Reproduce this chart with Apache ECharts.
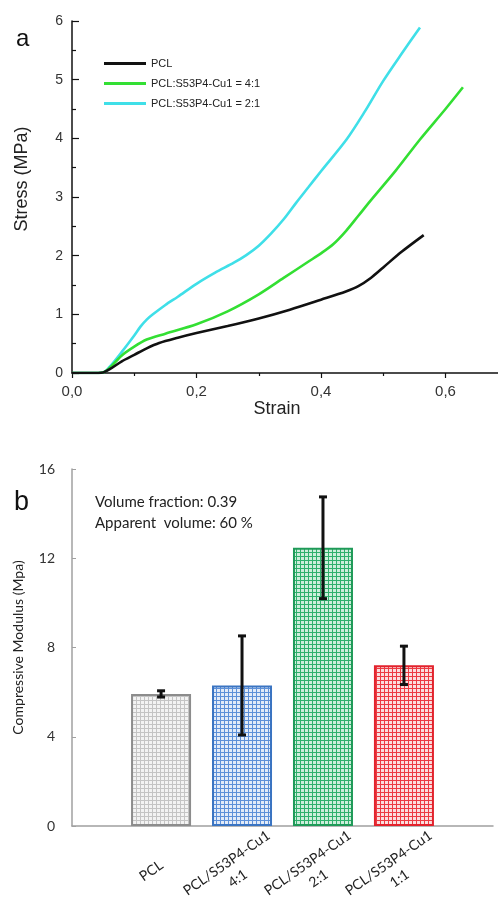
<!DOCTYPE html>
<html>
<head>
<meta charset="utf-8">
<script src="https://cdn.jsdelivr.net/npm/echarts@6/dist/echarts.min.js"></script>
<style>
html,body{margin:0;padding:0;background:#fff;}
#main{width:498px;height:903px;}
</style>
</head>
<body>
<div id="main"></div>
<script>
// ---------- Panel a: stress-strain ----------
const seriesNames = ['PCL', 'PCL:S53P4-Cu1 = 4:1', 'PCL:S53P4-Cu1 = 2:1'];
const pclStrain = [0, 0.03, 0.05, 0.06, 0.08, 0.1, 0.12, 0.14, 0.17, 0.2, 0.25, 0.3, 0.35, 0.4, 0.44, 0.46, 0.48, 0.5, 0.53, 0.565];
const pclStress = [0, 0, 0.01, 0.06, 0.2, 0.31, 0.42, 0.51, 0.6, 0.68, 0.8, 0.93, 1.08, 1.25, 1.39, 1.48, 1.62, 1.8, 2.07, 2.35];
const g41Strain = [0, 0.03, 0.05, 0.06, 0.08, 0.1, 0.12, 0.15, 0.2, 0.25, 0.3, 0.34, 0.38, 0.4, 0.42, 0.44, 0.46, 0.479, 0.52, 0.559, 0.6, 0.628];
const g41Stress = [0, 0, 0.01, 0.08, 0.3, 0.45, 0.57, 0.67, 0.83, 1.05, 1.34, 1.62, 1.9, 2.04, 2.2, 2.42, 2.68, 2.93, 3.45, 3.98, 4.5, 4.87];
const c21Strain = [0, 0.03, 0.05, 0.06, 0.08, 0.1, 0.11, 0.12, 0.13, 0.15, 0.17, 0.2, 0.23, 0.26, 0.28, 0.3, 0.32, 0.34, 0.36, 0.38, 0.4, 0.441, 0.47, 0.5, 0.53, 0.559];
const c21Stress = [0, 0, 0.01, 0.1, 0.36, 0.64, 0.79, 0.91, 1.0, 1.16, 1.3, 1.52, 1.71, 1.88, 2.01, 2.17, 2.38, 2.62, 2.9, 3.17, 3.44, 3.98, 4.45, 4.98, 5.45, 5.89];
const stressTicks = [0, 1, 2, 3, 4, 5, 6];
const strainTicks = [0, 0.2, 0.4, 0.6];

// ---------- Panel b: compressive modulus ----------
const categories = ['PCL', 'PCL/S53P4-Cu1\n4:1', 'PCL/S53P4-Cu1\n2:1', 'PCL/S53P4-Cu1\n1:1'];
const modulus = [5.92, 6.3, 12.47, 7.2];
const modulusErr = [0.14, 2.22, 2.28, 0.86];
const modulusTicks = [0, 4, 8, 12, 16];

const barStyles = [
  {line: '#c4c4c4', bg: '#f3f3f3', border: '#8c8c8c'},
  {line: '#5d90d8', bg: '#e2ebf8', border: '#3a74c2'},
  {line: '#2fb06c', bg: '#cdeedb', border: '#1f9a58'},
  {line: '#ec3a42', bg: '#fbdede', border: '#e2222c'}
];
function makePattern(line, bg) {
  const c = document.createElement('canvas');
  c.width = 4; c.height = 4;
  const ctx = c.getContext('2d');
  ctx.fillStyle = bg; ctx.fillRect(0, 0, 4, 4);
  ctx.fillStyle = line; ctx.fillRect(0, 0, 4, 1); ctx.fillRect(0, 0, 1, 4);
  return c;
}

const zip = (xs, ys) => xs.map((x, i) => [x, ys[i]]);
const lineColors = ['#111111', '#33df33', '#3fdfe8'];
const lineData = [zip(pclStrain, pclStress), zip(g41Strain, g41Stress), zip(c21Strain, c21Stress)];

const chart = echarts.init(document.getElementById('main'), null, {renderer: 'canvas'});

const option = {
  backgroundColor: '#ffffff',
  animation: false,
  title: [
    {text: 'a', left: 11, top: 22, textStyle: {fontFamily: 'Liberation Sans', fontSize: 24, fontWeight: 'normal', color: '#111'}},
    {text: 'b', left: 9, top: 484, textStyle: {fontFamily: 'Liberation Sans', fontSize: 27, fontWeight: 'normal', color: '#111'}},
    {text: 'Volume fraction: 0.39\nApparent  volume: 60 %', left: 90, top: 487,
     textStyle: {fontFamily: 'Lato', fontSize: 15, fontWeight: 'normal', color: '#222', lineHeight: 21}}
  ],
  legend: {
    data: seriesNames,
    orient: 'vertical',
    left: 99, top: 53,
    itemGap: 9,
    icon: 'rect',
    itemWidth: 42, itemHeight: 3,
    textStyle: {fontFamily: 'Liberation Sans', fontSize: 11, color: '#222'}
  },
  grid: [
    {left: 72, right: -72, top: 21, bottom: 530, outerBoundsMode: 'none', containLabel: false},
    {left: 72, right: 5, top: 469, bottom: 77, outerBoundsMode: 'none', containLabel: false}
  ],
  xAxis: [
    {
      gridIndex: 0, type: 'value', min: 0, max: 0.8, interval: 0.2,
      name: 'Strain', nameLocation: 'middle', nameGap: 25,
      nameTextStyle: {fontFamily: 'Liberation Sans', fontSize: 18, color: '#222', padding: [0, 88, 0, 0]},
      axisLine: {lineStyle: {color: '#111', width: 1.5}},
      axisTick: {show: true, length: 5, lineStyle: {color: '#111', width: 1.2}},
      minorTick: {show: true, splitNumber: 2, length: 3, lineStyle: {color: '#111', width: 1.2}},
      splitLine: {show: false},
      axisLabel: {fontFamily: 'Liberation Sans', fontSize: 15, color: '#333', margin: 11,
        formatter: v => v.toFixed(1).replace('.', ',')}
    },
    {
      gridIndex: 1, type: 'value', min: -1.1, max: 4.1,
      axisLine: {onZero: false, lineStyle: {color: '#a0a0a0', width: 1.5}},
      axisTick: {show: false},
      splitLine: {show: false},
      axisLabel: {
        customValues: [0, 1, 2, 3],
        formatter: v => categories[Math.round(v)],
        showMinLabel: true, showMaxLabel: true,
        rotate: 35, align: 'center', verticalAlign: 'middle',
        margin: 38, padding: [0, 24, 0, 0], lineHeight: 19,
        fontFamily: 'Lato', fontSize: 14, color: '#222'
      }
    }
  ],
  yAxis: [
    {
      gridIndex: 0, type: 'value', min: 0, max: 6, interval: 1,
      name: 'Stress (MPa)', nameLocation: 'middle', nameGap: 41,
      nameTextStyle: {fontFamily: 'Liberation Sans', fontSize: 18, color: '#222', padding: [0, 0, 0, 36]},
      axisLine: {show: true, onZero: false, lineStyle: {color: '#111', width: 1.5}},
      axisTick: {show: true, inside: true, length: 7, lineStyle: {color: '#111', width: 1.2}},
      minorTick: {show: true, splitNumber: 2, length: 4, lineStyle: {color: '#111', width: 1.2}},
      splitLine: {show: false},
      axisLabel: {fontFamily: 'Liberation Sans', fontSize: 14, color: '#333', margin: 9}
    },
    {
      gridIndex: 1, type: 'value', min: 0, max: 16, interval: 4,
      name: 'Compressive Modulus (Mpa)', nameLocation: 'middle', nameGap: 47,
      nameTextStyle: {fontFamily: 'Lato', fontSize: 14, color: '#222'},
      axisLine: {show: true, onZero: false, lineStyle: {color: '#a0a0a0', width: 1.5}},
      axisTick: {show: true, inside: true, length: 4, lineStyle: {color: '#a0a0a0'}},
      splitLine: {show: false},
      axisLabel: {fontFamily: 'Lato', fontSize: 14, color: '#333', margin: 17}
    }
  ],
  series: [
    ...seriesNames.map((n, i) => ({
      name: n, type: 'line', xAxisIndex: 0, yAxisIndex: 0,
      data: lineData[i], showSymbol: false, smooth: 0.3,
      lineStyle: {color: lineColors[i], width: 2.6}, itemStyle: {color: lineColors[i]},
      z: 3 - i
    })),
    {
      name: 'modulus', type: 'bar', xAxisIndex: 1, yAxisIndex: 1, barWidth: 60,
      data: modulus.map((v, i) => ({
        value: [i, v],
        itemStyle: {
          color: {image: makePattern(barStyles[i].line, barStyles[i].bg), repeat: 'repeat'},
          borderColor: barStyles[i].border, borderWidth: 2
        }
      }))
    },
    {
      name: 'err', type: 'custom', xAxisIndex: 1, yAxisIndex: 1, z: 5,
      data: modulus.map((v, i) => [i, v - modulusErr[i], v + modulusErr[i]]),
      renderItem: (params, api) => {
        const lo = api.coord([api.value(0), api.value(1)]);
        const hi = api.coord([api.value(0), api.value(2)]);
        const w = 4;
        const st = {stroke: '#111', lineWidth: 3};
        return {type: 'group', children: [
          {type: 'line', shape: {x1: lo[0], y1: lo[1], x2: hi[0], y2: hi[1]}, style: st},
          {type: 'line', shape: {x1: lo[0] - w, y1: lo[1], x2: lo[0] + w, y2: lo[1]}, style: st},
          {type: 'line', shape: {x1: hi[0] - w, y1: hi[1], x2: hi[0] + w, y2: hi[1]}, style: st}
        ]};
      }
    }
  ]
};
chart.setOption(option);
</script>
</body>
</html>
